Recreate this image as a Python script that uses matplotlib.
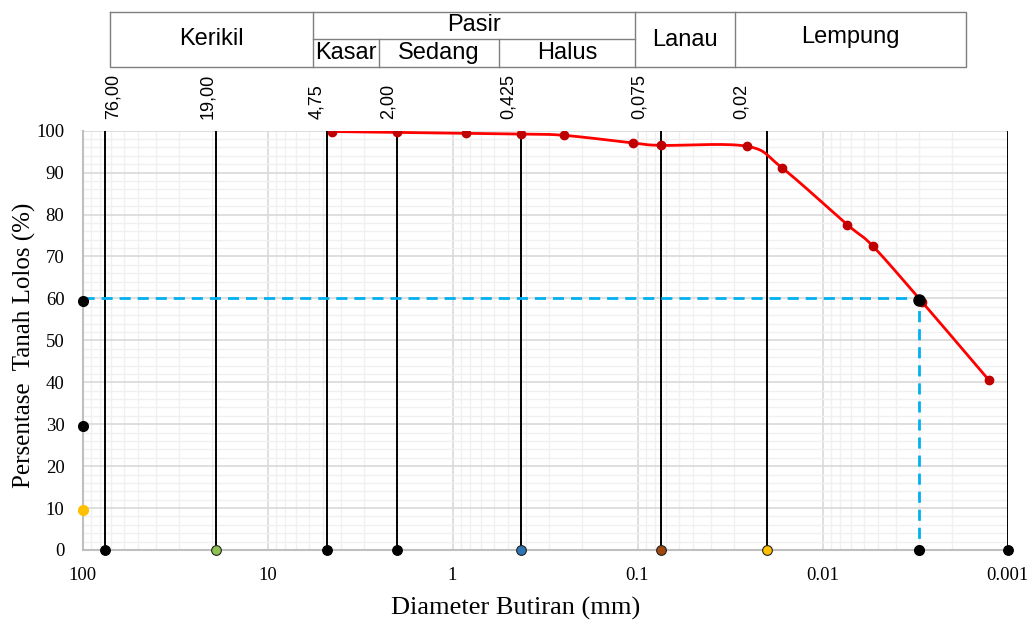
import numpy as np
import matplotlib
matplotlib.use('Agg')
import matplotlib.pyplot as plt
from matplotlib.ticker import LogLocator, MultipleLocator, FixedLocator, FixedFormatter

# gradation curve (sieve + hydrometer)
diameter = [4.5, 2.00, 0.85, 0.425, 0.25, 0.106, 0.075, 0.0257, 0.0166, 0.00735, 0.00535, 0.0029, 0.00126]
passing = [99.8, 99.6, 99.4, 99.2, 98.9, 97.1, 96.5, 96.3, 91.2, 77.6, 72.5, 59.2, 40.5]

# boundary lines between soil classes
bounds = [76.0, 19.0, 4.75, 2.00, 0.425, 0.075, 0.02, 0.001]
bound_labels = ['76,00', '19,00', '4,75', '2,00', '0,425', '0,075', '0,02']
bound_dot_colors = ['black', '#8cc152', 'black', 'black', '#2e75b6', '#a0460f', '#ffc000', 'black']

d60 = 0.0030
left_marks = [59.5, 29.5, 9.5]
left_mark_colors = ['black', 'black', '#ffc000']

xtick_vals = [100, 10, 1, 0.1, 0.01, 0.001]
xtick_labels = ['100', '10', '1', '0.1', '0.01', '0.001']

W, H = 1031, 624
fig = plt.figure(figsize=(W / 100, H / 100), dpi=100)
ax = fig.add_axes([82.5 / W, 1 - 550 / H, 925 / W, (550 - 130.7) / H])

serif = ['Liberation Serif', 'DejaVu Serif']
sans = ['Liberation Sans', 'DejaVu Sans']

ax.set_xscale('log')
ax.set_xlim(100, 0.001)
ax.set_ylim(0, 100)

ax.xaxis.set_major_locator(FixedLocator(xtick_vals))
ax.xaxis.set_major_formatter(FixedFormatter(xtick_labels))
ax.xaxis.set_minor_locator(LogLocator(base=10, subs=np.arange(2, 10)))
ax.xaxis.set_minor_formatter(plt.NullFormatter())
ax.yaxis.set_major_locator(MultipleLocator(10))
ax.yaxis.set_minor_locator(MultipleLocator(2))
ax.grid(which='major', color='#d9d9d9', lw=1.2)
ax.grid(which='minor', color='#f0f0f0', lw=1.0)
ax.set_axisbelow(True)
ax.tick_params(which='both', length=0)
ax.tick_params(axis='y', pad=13)
ax.tick_params(axis='x', pad=12)
for lab in ax.get_xticklabels() + ax.get_yticklabels():
    lab.set_family(serif)
    lab.set_fontsize(13.5)
for s in ['top', 'right']:
    ax.spines[s].set_visible(False)
for s in ['left', 'bottom']:
    ax.spines[s].set_color('#bfbfbf')
    ax.spines[s].set_linewidth(1.5)

ax.set_xlabel('Diameter Butiran (mm)', family=serif, fontsize=19)
ax.xaxis.set_label_coords((516 - 82.5) / 925, -47 / 419.3)
ax.set_ylabel('Persentase  Tanah Lolos (%)', family=serif, fontsize=18)
ax.yaxis.set_label_coords(-46 / 925, (550 - 345) / 419.3)

# class boundary lines with coloured dots at the bottom
for b, c in zip(bounds, bound_dot_colors):
    ax.plot([b, b], [0, 100], color='black', lw=1.4, zorder=3)
    ax.plot([b], [0], 'o', color=c, mec='#222222' if c != 'black' else 'black',
            mew=0.8, ms=7, clip_on=False, zorder=6)

# D60 construction
ax.plot([100, d60, d60], [60, 60, 0], color='#00b0f0', lw=2, ls=(0, (4, 2.5)), zorder=4)
ax.plot([d60], [0], 'o', color='black', ms=7, clip_on=False, zorder=6)

# smoothed curve (Catmull-Rom in log-x space, like Excel's smoothed line)
lx = np.log10(diameter)
py = np.array(passing)
px_ = np.concatenate([[2 * lx[0] - lx[1]], lx, [2 * lx[-1] - lx[-2]]])
py_ = np.concatenate([[2 * py[0] - py[1]], py, [2 * py[-1] - py[-2]]])
sx, sy = [], []
t = np.linspace(0, 1, 30)
for i in range(1, len(px_) - 2):
    p0, p1, p2, p3 = [np.array([px_[j], py_[j]]) for j in range(i - 1, i + 3)]
    seg = 0.5 * ((2 * p1)[:, None] + (-p0 + p2)[:, None] * t
                 + (2 * p0 - 5 * p1 + 4 * p2 - p3)[:, None] * t ** 2
                 + (-p0 + 3 * p1 - 3 * p2 + p3)[:, None] * t ** 3)
    sx.extend(seg[0])
    sy.extend(seg[1])
ax.plot(10 ** np.array(sx), sy, color='#ff0000', lw=2, zorder=5)
ax.plot(diameter, passing, 'o', color='#c00000', ms=6, zorder=5)
ax.plot([d60], [59.6], 'o', color='black', ms=8, zorder=6)

# marks on the left edge
for v, c in zip(left_marks, left_mark_colors):
    ax.plot([100], [v], 'o', color=c, ms=7, clip_on=False, zorder=6)

# rotated boundary values above the plot (figure pixel positions)
label_px = [113, 208, 317, 388, 508, 639, 741]
for x, lab in zip(label_px, bound_labels):
    fig.text(x / W, 1 - 119 / H, lab, rotation=90, ha='center', va='bottom',
             family=sans, fontsize=13)

# classification table on top
def fx(x):
    return x / W

def fy(y):
    return 1 - y / H

line_kw = dict(color='#7f7f7f', lw=1.0, transform=fig.transFigure)
top, mid, bot = 12, 39, 67
x0, x1 = 110, 966
fig.add_artist(plt.Line2D([fx(x0), fx(x1), fx(x1), fx(x0), fx(x0)],
                          [fy(top), fy(top), fy(bot), fy(bot), fy(top)], **line_kw))
for x in [313, 635, 735]:
    fig.add_artist(plt.Line2D([fx(x), fx(x)], [fy(top), fy(bot)], **line_kw))
fig.add_artist(plt.Line2D([fx(313), fx(635)], [fy(mid), fy(mid)], **line_kw))
for x in [379, 499]:
    fig.add_artist(plt.Line2D([fx(x), fx(x)], [fy(mid), fy(bot)], **line_kw))

tk = dict(family=sans, fontsize=17, ha='center', va='center')
fig.text(fx((x0 + 313) / 2), fy(39), 'Kerikil', **tk)
fig.text(fx((313 + 635) / 2), fy(25), 'Pasir', **tk)
fig.text(fx((313 + 379) / 2), fy(53), 'Kasar', **tk)
fig.text(fx((379 + 499) / 2), fy(53), 'Sedang', **tk)
fig.text(fx((499 + 635) / 2), fy(53), 'Halus', **tk)
fig.text(fx((635 + 735) / 2), fy(40), 'Lanau', **tk)
fig.text(fx((735 + x1) / 2), fy(37), 'Lempung', **tk)

fig.savefig('out.png', dpi=100)
